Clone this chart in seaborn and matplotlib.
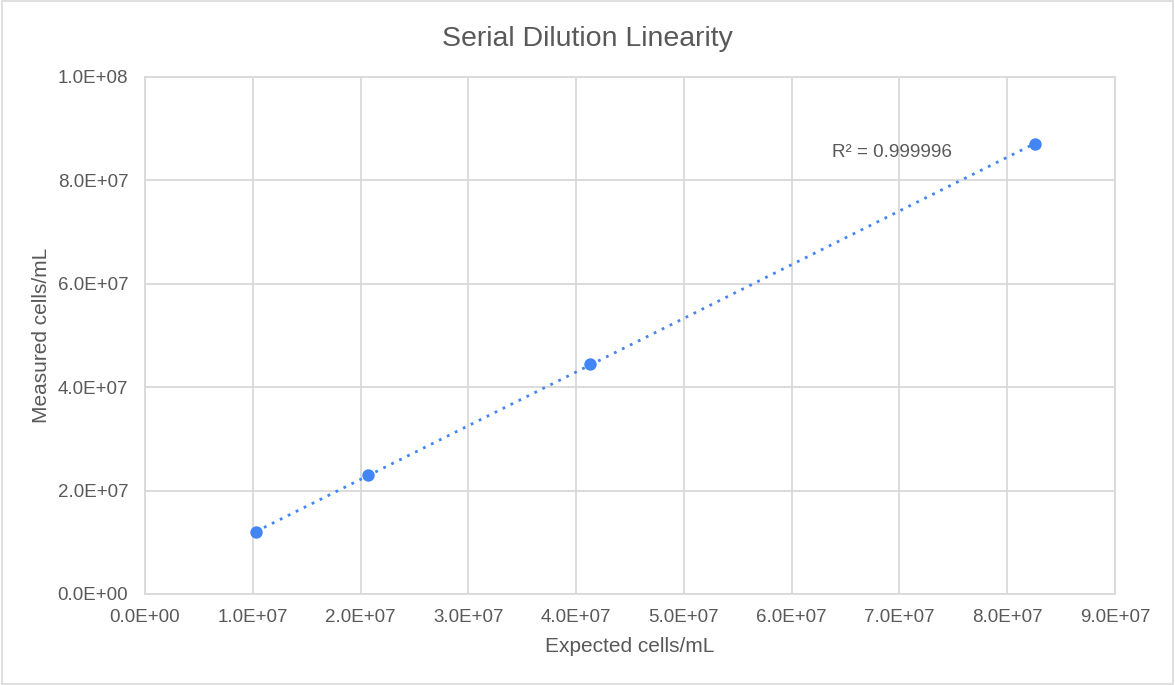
import numpy as np
import pandas as pd
import seaborn as sns
from matplotlib import pyplot as plt
from matplotlib.ticker import FuncFormatter, MultipleLocator
from matplotlib.patches import Rectangle

# serial dilution data
expected = [1.03e7, 2.07e7, 4.13e7, 8.26e7]
measured = [1.19e7, 2.30e7, 4.44e7, 8.71e7]
r2_label = "R² = 0.999996"

df = pd.DataFrame({"expected": expected, "measured": measured})

sns.set_style("white")
plt.rcParams["font.family"] = ["Liberation Sans", "DejaVu Sans"]

blue = "#4285F4"
grey_txt = "#595959"
grid_col = "#d9d9d9"

fig = plt.figure(figsize=(11.75, 6.85), dpi=100)
ax = fig.add_axes([0.1234, 0.133, 0.8255, 0.7546])

# linear trendline over the data range
slope, intercept = np.polyfit(df["expected"], df["measured"], 1)
xs = np.array([df["expected"].min(), df["expected"].max()])
ax.plot(xs, slope * xs + intercept, color=blue, linestyle=(0, (1, 2.2)),
        linewidth=2, zorder=2)

sns.scatterplot(x="expected", y="measured", data=df, ax=ax, color=blue,
                s=80, edgecolor=blue, linewidth=0, zorder=3)

ax.set_xlim(0, 9e7)
ax.set_ylim(0, 1e8)
ax.xaxis.set_major_locator(MultipleLocator(1e7))
ax.yaxis.set_major_locator(MultipleLocator(2e7))
fmt = FuncFormatter(lambda v, p: f"{v:.1E}")
ax.xaxis.set_major_formatter(fmt)
ax.yaxis.set_major_formatter(fmt)
ax.grid(True, color=grid_col, linewidth=1.3)
ax.set_axisbelow(True)
for s in ax.spines.values():
    s.set_color(grid_col)
    s.set_linewidth(1.3)
ax.tick_params(length=0, labelsize=13.5, labelcolor=grey_txt)
ax.tick_params(axis="x", pad=11)
ax.tick_params(axis="y", pad=12)

ax.set_xlabel("Expected cells/mL", fontsize=15, color=grey_txt, labelpad=8)
ax.set_ylabel("Measured cells/mL", fontsize=15, color=grey_txt, labelpad=5)
fig.text(0.5, 0.943, "Serial Dilution Linearity", ha="center", va="center",
         fontsize=20.5, color=grey_txt)

ax.text(6.37e7, 8.53e7, r2_label, ha="left", va="center", fontsize=13.6,
        color=grey_txt)

fig.patches.append(Rectangle((0.002, 0.002), 0.996, 0.996, transform=fig.transFigure,
                             fill=False, edgecolor=grid_col, linewidth=1.2))

fig.savefig("out.png", dpi=100)
